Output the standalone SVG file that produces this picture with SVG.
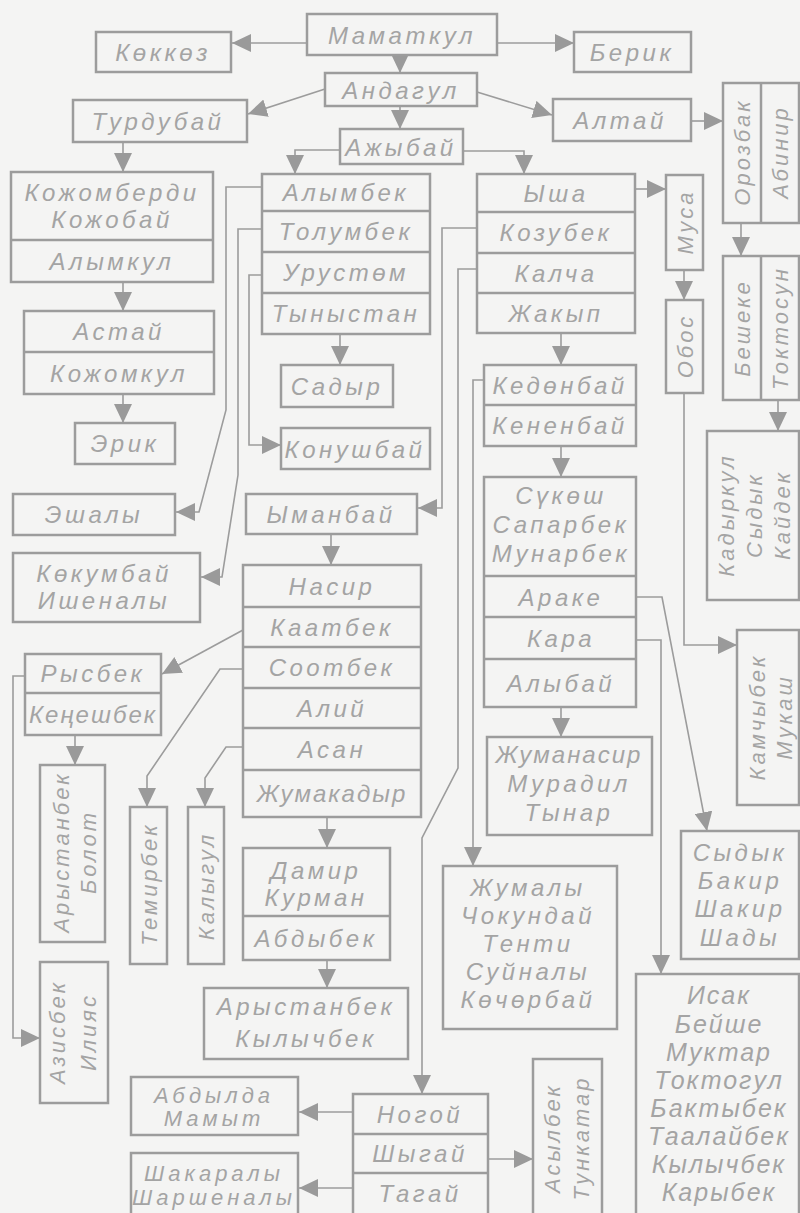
<svg xmlns="http://www.w3.org/2000/svg" width="800" height="1213" viewBox="0 0 800 1213">
<defs>
<marker id="ah" markerUnits="userSpaceOnUse" markerWidth="19" markerHeight="18" refX="19" refY="9" orient="auto"><path d="M0,0 L19,9 L0,18 Z" fill="#9a9a9a"/></marker>
<style>
.b{fill:none;stroke:#9c9c9c;stroke-width:2.5}
.c{fill:none;stroke:#9c9c9c;stroke-width:1.6;marker-end:url(#ah)}
.t{font-family:"Liberation Sans",Arial,sans-serif;font-style:italic;font-size:24px;fill:#a4a4a4;text-anchor:middle;dominant-baseline:central;letter-spacing:3.5px}
.n{letter-spacing:2px}
.v{font-size:22px;letter-spacing:3px}
.l{font-size:25px;letter-spacing:2px}
.s{font-size:22px;letter-spacing:4px}
</style>
</defs>
<rect x="0" y="0" width="800" height="1213" fill="#f4f4f3"/>

<g id="connectors">
<path class="c" d="M307,43 H232"/>
<path class="c" d="M497,43 H574"/>
<path class="c" d="M400,55 V73"/>
<path class="c" d="M325,89 L248,114"/>
<path class="c" d="M477,92 L552,115"/>
<path class="c" d="M400,106 V129"/>
<path class="c" d="M340,150 H295 V174"/>
<path class="c" d="M463,151 H524 V174"/>
<path class="c" d="M691,121 H723"/>
<path class="c" d="M635,189 H666"/>
<path class="c" d="M684,270 V300"/>
<path class="c" d="M741,223 V256"/>
<path class="c" d="M778,400 V431"/>
<path class="c" d="M684,393 V645 H737"/>
<path class="c" d="M123,142 V172"/>
<path class="c" d="M123,282 V311"/>
<path class="c" d="M123,394 V423"/>
<path class="c" d="M340,334 V365"/>
<path class="c" d="M262,275 H249 V445 H281"/>
<path class="c" d="M262,187 H226 V410 L199,512 H176"/>
<path class="c" d="M262,229 H238 V475 L222,577 H201"/>
<path class="c" d="M477,228 H442 V508 H418"/>
<path class="c" d="M477,269 H458 V768 L422,838 V1094"/>
<path class="c" d="M484,380 H473 V866"/>
<path class="c" d="M561,333 V365"/>
<path class="c" d="M561,446 V477"/>
<path class="c" d="M561,707 V737"/>
<path class="c" d="M637,597 H662 L707,831"/>
<path class="c" d="M637,640 H661 V974"/>
<path class="c" d="M331,534 V565"/>
<path class="c" d="M243,630 L162,674"/>
<path class="c" d="M243,669 H220 L147,776 V807"/>
<path class="c" d="M243,747 H226 L205,778 V807"/>
<path class="c" d="M25,676 H13 V1038 H40"/>
<path class="c" d="M75,735 V765"/>
<path class="c" d="M327,817 V848"/>
<path class="c" d="M327,960 V988"/>
<path class="c" d="M353,1112 H299"/>
<path class="c" d="M353,1188 H299"/>
<path class="c" d="M488,1159 H533"/>
</g>

<g id="mamatkul"><rect class="b" x="307" y="14" width="190" height="41"/><text class="t" x="402" y="35">Маматкул</text></g>
<g id="kokkoz"><rect class="b" x="96" y="32" width="135" height="40"/><text class="t" x="163" y="52">Көккөз</text></g>
<g id="berik"><rect class="b" x="574" y="32" width="117" height="40"/><text class="t" x="632" y="52">Берик</text></g>
<g id="andagul"><rect class="b" x="325" y="73" width="152" height="33"/><text class="t" x="401" y="90">Андагул</text></g>
<g id="turdubai"><rect class="b" x="73" y="100" width="174" height="42"/><text class="t" x="158" y="121">Турдубай</text></g>
<g id="altai"><rect class="b" x="553" y="99" width="138" height="42"/><text class="t" x="620" y="120">Алтай</text></g>
<g id="ajybai"><rect class="b" x="340" y="129" width="123" height="35"/><text class="t" x="401" y="147">Ажыбай</text></g>

<g id="orozbak"><rect class="b" x="723" y="83" width="76" height="140"/><line class="b" x1="761" y1="83" x2="761" y2="223"/>
<text class="t v" transform="translate(742,152) rotate(-90)">Орозбак</text>
<text class="t v" transform="translate(780,152) rotate(-90)">Абинир</text></g>

<g id="alymbek"><rect class="b" x="262" y="174" width="168" height="160"/>
<line class="b" x1="262" y1="211" x2="430" y2="211"/><line class="b" x1="262" y1="252" x2="430" y2="252"/><line class="b" x1="262" y1="293" x2="430" y2="293"/>
<text class="t" x="346" y="192">Алымбек</text><text class="t" x="346" y="231">Толумбек</text><text class="t" x="346" y="272">Урустөм</text><text class="t" x="346" y="313">Тыныстан</text></g>

<g id="ysha"><rect class="b" x="477" y="174" width="158" height="159"/>
<line class="b" x1="477" y1="212" x2="635" y2="212"/><line class="b" x1="477" y1="253" x2="635" y2="253"/><line class="b" x1="477" y1="293" x2="635" y2="293"/>
<text class="t" x="556" y="193">Ыша</text><text class="t" x="556" y="232">Козубек</text><text class="t" x="556" y="273">Калча</text><text class="t" x="556" y="313">Жакып</text></g>

<g id="musa"><rect class="b" x="666" y="175" width="37" height="95"/><text class="t v" transform="translate(685,222) rotate(-90)">Муса</text></g>
<g id="obos"><rect class="b" x="666" y="300" width="37" height="93"/><text class="t v" transform="translate(685,346) rotate(-90)">Обос</text></g>
<g id="beshike"><rect class="b" x="723" y="256" width="76" height="144"/><line class="b" x1="761" y1="256" x2="761" y2="400"/>
<text class="t v" transform="translate(742,328) rotate(-90)">Бешеке</text>
<text class="t v" transform="translate(780,328) rotate(-90)">Токтосун</text></g>
<g id="kadyrkul"><rect class="b" x="707" y="431" width="92" height="169"/>
<text class="t v" transform="translate(726,515) rotate(-90)">Кадыркул</text>
<text class="t v" transform="translate(754,515) rotate(-90)">Сыдык</text>
<text class="t v" transform="translate(782,515) rotate(-90)">Кайдек</text></g>
<g id="kamchybek"><rect class="b" x="737" y="630" width="62" height="175"/>
<text class="t v" transform="translate(757,717) rotate(-90)">Камчыбек</text>
<text class="t v" transform="translate(784,717) rotate(-90)">Мукаш</text></g>

<g id="kojomberdi"><rect class="b" x="11" y="172" width="202" height="110"/><line class="b" x1="11" y1="240" x2="213" y2="240"/>
<text class="t" x="112" y="192">Кожомберди</text><text class="t" x="112" y="219">Кожобай</text><text class="t" x="112" y="261">Алымкул</text></g>
<g id="astai"><rect class="b" x="24" y="311" width="190" height="83"/><line class="b" x1="24" y1="352" x2="214" y2="352"/>
<text class="t" x="119" y="331">Астай</text><text class="t" x="119" y="373">Кожомкул</text></g>
<g id="erik"><rect class="b" x="75" y="423" width="100" height="41"/><text class="t" x="125" y="443">Эрик</text></g>
<g id="sadyr"><rect class="b" x="281" y="365" width="112" height="42"/><text class="t" x="337" y="386">Садыр</text></g>
<g id="konushbai"><rect class="b" x="281" y="428" width="149" height="41"/><text class="t" x="355" y="449">Конушбай</text></g>
<g id="eshaly"><rect class="b" x="13" y="494" width="162" height="41"/><text class="t" x="94" y="514">Эшалы</text></g>
<g id="kokumbai"><rect class="b" x="13" y="553" width="187" height="69"/><text class="t" x="104" y="573">Көкумбай</text><text class="t" x="104" y="600">Ишеналы</text></g>
<g id="ymanbai"><rect class="b" x="246" y="494" width="171" height="40"/><text class="t" x="331" y="514">Ыманбай</text></g>

<g id="nasir"><rect class="b" x="243" y="565" width="178" height="252"/>
<line class="b" x1="243" y1="607" x2="421" y2="607"/><line class="b" x1="243" y1="647" x2="421" y2="647"/><line class="b" x1="243" y1="688" x2="421" y2="688"/><line class="b" x1="243" y1="728" x2="421" y2="728"/><line class="b" x1="243" y1="770" x2="421" y2="770"/>
<text class="t" x="332" y="586">Насир</text><text class="t" x="332" y="627">Каатбек</text><text class="t" x="332" y="667">Соотбек</text><text class="t" x="332" y="708">Алий</text><text class="t" x="332" y="749">Асан</text><text class="t n" x="332" y="793">Жумакадыр</text></g>

<g id="rysbek"><rect class="b" x="25" y="654" width="136" height="81"/><line class="b" x1="25" y1="693" x2="161" y2="693"/>
<text class="t" x="93" y="673">Рысбек</text><text class="t n" x="93" y="714">Кеңешбек</text></g>
<g id="arystanbek-bolot"><rect class="b" x="40" y="765" width="65" height="177"/>
<text class="t v" transform="translate(61,852) rotate(-90)">Арыстанбек</text>
<text class="t v" transform="translate(88,852) rotate(-90)">Болот</text></g>
<g id="azisbek"><rect class="b" x="40" y="962" width="68" height="141"/>
<text class="t v" transform="translate(57,1032) rotate(-90)">Азисбек</text>
<text class="t v" transform="translate(88,1032) rotate(-90)">Илияс</text></g>
<g id="temirbek"><rect class="b" x="130" y="807" width="37" height="157"/><text class="t v" transform="translate(149,884) rotate(-90)">Темирбек</text></g>
<g id="kalygul"><rect class="b" x="188" y="807" width="36" height="157"/><text class="t v" transform="translate(206,886) rotate(-90)">Калыгул</text></g>

<g id="damir"><rect class="b" x="243" y="848" width="147" height="112"/><line class="b" x1="243" y1="916" x2="390" y2="916"/>
<text class="t" x="316" y="870">Дамир</text><text class="t" x="316" y="897">Курман</text><text class="t" x="316" y="938">Абдыбек</text></g>
<g id="arystanbek-kylychbek"><rect class="b" x="204" y="988" width="204" height="71"/>
<text class="t" x="306" y="1006">Арыстанбек</text><text class="t" x="306" y="1038">Кылычбек</text></g>
<g id="abdylda"><rect class="b" x="131" y="1077" width="167" height="58"/>
<text class="t s" x="214" y="1095">Абдылда</text><text class="t s" x="214" y="1118">Мамыт</text></g>
<g id="shakaraly"><rect class="b" x="131" y="1153" width="167" height="72"/>
<text class="t s" x="214" y="1173">Шакаралы</text><text class="t s" x="214" y="1197">Шаршеналы</text></g>
<g id="nogoi"><rect class="b" x="353" y="1094" width="135" height="130"/>
<line class="b" x1="353" y1="1134" x2="488" y2="1134"/><line class="b" x1="353" y1="1173" x2="488" y2="1173"/>
<text class="t" x="420" y="1114">Ногой</text><text class="t" x="420" y="1153">Шыгай</text><text class="t" x="420" y="1193">Тагай</text></g>
<g id="asylbek"><rect class="b" x="533" y="1059" width="69" height="165"/>
<text class="t v" transform="translate(552,1138) rotate(-90)">Асылбек</text>
<text class="t v" transform="translate(581,1138) rotate(-90)">Тункатар</text></g>

<g id="kedonbai"><rect class="b" x="484" y="365" width="152" height="81"/><line class="b" x1="484" y1="405" x2="636" y2="405"/>
<text class="t" x="560" y="385">Кедөнбай</text><text class="t" x="560" y="425">Кененбай</text></g>
<g id="sukosh"><rect class="b" x="484" y="477" width="152" height="230"/>
<line class="b" x1="484" y1="576" x2="636" y2="576"/><line class="b" x1="484" y1="617" x2="636" y2="617"/><line class="b" x1="484" y1="659" x2="636" y2="659"/>
<text class="t" x="561" y="495">Сүкөш</text><text class="t" x="561" y="524">Сапарбек</text><text class="t" x="561" y="553">Мунарбек</text>
<text class="t" x="561" y="597">Араке</text><text class="t" x="561" y="638">Кара</text><text class="t" x="561" y="683">Алыбай</text></g>
<g id="jumanasir"><rect class="b" x="487" y="737" width="165" height="98"/>
<text class="t n" x="569" y="754">Жуманасир</text><text class="t" x="569" y="783">Мурадил</text><text class="t" x="569" y="812">Тынар</text></g>
<g id="jumaly"><rect class="b" x="443" y="866" width="174" height="163"/>
<text class="t" x="528" y="887">Жумалы</text><text class="t" x="528" y="915">Чокундай</text><text class="t" x="528" y="943">Тенти</text><text class="t" x="528" y="971">Суйналы</text><text class="t" x="528" y="999">Көчөрбай</text></g>
<g id="sydyk"><rect class="b" x="681" y="831" width="118" height="128"/>
<text class="t" x="740" y="852">Сыдык</text><text class="t" x="740" y="880">Бакир</text><text class="t" x="740" y="908">Шакир</text><text class="t" x="740" y="937">Шады</text></g>
<g id="isak"><rect class="b" x="636" y="974" width="163" height="250"/>
<text class="t l" x="719" y="995">Исак</text><text class="t l" x="719" y="1024">Бейше</text><text class="t l" x="719" y="1052">Муктар</text><text class="t l" x="719" y="1080">Токтогул</text>
<text class="t l" x="719" y="1108">Бактыбек</text><text class="t l" x="719" y="1136">Таалайбек</text><text class="t l" x="719" y="1164">Кылычбек</text><text class="t l" x="719" y="1192">Карыбек</text></g>
</svg>
